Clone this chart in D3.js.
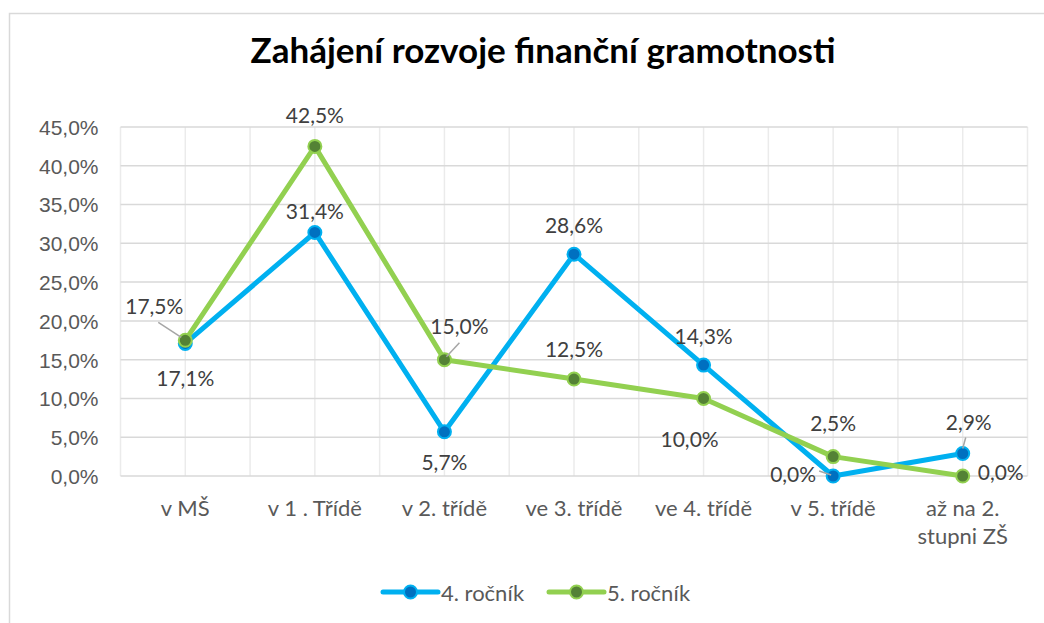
<!DOCTYPE html>
<html>
<head>
<meta charset="utf-8">
<script src="https://cdn.jsdelivr.net/npm/d3@7"></script>
<style>
  body { margin: 0; background: #fff; }
  svg { display: block; font-family: Lato, "Open Sans", sans-serif; }
  .tick text { fill: #595959; font-size: 21px; }
  .title { font-weight: bold; font-size: 35px; fill: #000; }
  .lbl { fill: #404040; font-size: 21px; }
  .cat { fill: #595959; font-size: 22px; }
  .leg { fill: #595959; font-size: 22px; }
</style>
</head>
<body>
<div id="vis"></div>
<script>
const frame_width = 1044;
const frame_height = 623;
const plot = {left: 120.5, right: 1027.5, top: 127, bottom: 476};

const categories = ["v MŠ", "v 1 . Třídě", "v 2. třídě", "ve 3. třídě", "ve 4. třídě", "v 5. třídě", "až na 2. stupni ZŠ"];
const series_names = ["4. ročník", "5. ročník"];
const values_4 = [17.1, 31.4, 5.7, 28.6, 14.3, 0.0, 2.9];
const values_5 = [17.5, 42.5, 15.0, 12.5, 10.0, 2.5, 0.0];
const y_ticks = [0, 5, 10, 15, 20, 25, 30, 35, 40, 45];

// label offsets from the point (layout only)
const offsets_4 = [[0, 34], [0, -22], [0, 30], [0, -30], [0, -30], [-40, -3], [6, -32]];
const offsets_5 = [[-31, -35], [0, -32], [15, -34], [0, -31], [-14, 40], [0, -34], [38, -5]];
// leader lines: [index, x1, y1, x2, y2] relative to point
const leaders_4 = [[5, -14, -5, -2, -1], [6, 3, -16, 0, -5]];
const leaders_5 = [[0, -27, -18, -4, -3], [2, 15, -17, 2, -3]];

const line_colors = ["#00b0f0", "#92d050"];
const marker_fill = ["#0070c0", "#548235"];

const locale = d3.formatLocale({decimal: ",", thousands: " ", grouping: [3], currency: ["", ""]});
const pct = locale.format(".1f");

const FRAME = d3.select("#vis")
  .append("svg")
    .attr("width", frame_width)
    .attr("height", frame_height);

// chart border
FRAME.append("rect")
  .attr("x", 9.5).attr("y", 13.5)
  .attr("width", 1200).attr("height", 800)
  .attr("fill", "none").attr("stroke", "#d9d9d9").attr("stroke-width", 1.5);

const X_SCALE = d3.scalePoint()
  .domain(categories)
  .range([plot.left, plot.right])
  .padding(0.5);

const Y_SCALE = d3.scaleLinear()
  .domain([0, 45])
  .range([plot.bottom, plot.top]);

// vertical gridlines at category centres and boundaries
const half = X_SCALE.step() / 2;
const vgrid = d3.range(0, categories.length * 2 + 1).map(i => plot.left + i * half);
FRAME.append("g").selectAll("line")
  .data(vgrid)
  .enter().append("line")
    .attr("x1", d => d).attr("x2", d => d)
    .attr("y1", plot.top).attr("y2", plot.bottom)
    .attr("stroke", "#ebebeb").attr("stroke-width", 1.5);

// horizontal gridlines
FRAME.append("g").selectAll("line")
  .data(y_ticks)
  .enter().append("line")
    .attr("x1", plot.left).attr("x2", plot.right)
    .attr("y1", d => Y_SCALE(d)).attr("y2", d => Y_SCALE(d))
    .attr("stroke", "#d9d9d9").attr("stroke-width", 1.5);

// y axis labels
FRAME.append("g")
  .attr("transform", "translate(" + plot.left + ",0)")
  .call(d3.axisLeft(Y_SCALE).tickValues(y_ticks).tickSize(0).tickPadding(22)
    .tickFormat(d => pct(d) + "%"))
  .call(g => g.select(".domain").remove())
  .selectAll("text").attr("dy", "0.35em");

// category labels
const catText = FRAME.append("g").selectAll("text")
  .data(categories)
  .enter().append("text")
    .attr("class", "cat")
    .attr("text-anchor", "middle")
    .attr("x", d => X_SCALE(d))
    .attr("y", 516);
catText.each(function (d) {
  const parts = d === "až na 2. stupni ZŠ" ? ["až na 2.", "stupni ZŠ"] : [d];
  const t = d3.select(this);
  parts.forEach((p, i) => {
    t.append("tspan").attr("x", X_SCALE(d)).attr("dy", i === 0 ? 0 : 28).text(p);
  });
});

// title
FRAME.append("text")
  .attr("class", "title")
  .attr("x", 543).attr("y", 63)
  .attr("text-anchor", "middle")
  .text("Zahájení rozvoje finanční gramotnosti");

const allSeries = [values_4, values_5];
const allOffsets = [offsets_4, offsets_5];
const allLeaders = [leaders_4, leaders_5];

const line = d3.line()
  .x((d, i) => X_SCALE(categories[i]))
  .y(d => Y_SCALE(d));

allSeries.forEach((vals, s) => {
  FRAME.append("path")
    .datum(vals)
    .attr("d", line)
    .attr("fill", "none")
    .attr("stroke", line_colors[s])
    .attr("stroke-width", 5)
    .attr("stroke-linejoin", "round");

  FRAME.append("g").selectAll("circle")
    .data(vals)
    .enter().append("circle")
      .attr("cx", (d, i) => X_SCALE(categories[i]))
      .attr("cy", d => Y_SCALE(d))
      .attr("r", 6.5)
      .attr("fill", marker_fill[s])
      .attr("stroke", line_colors[s])
      .attr("stroke-width", 2);
});

// leader lines and data labels
allSeries.forEach((vals, s) => {
  FRAME.append("g").selectAll("line")
    .data(allLeaders[s])
    .enter().append("line")
      .attr("x1", d => X_SCALE(categories[d[0]]) + d[1])
      .attr("y1", d => Y_SCALE(vals[d[0]]) + d[2])
      .attr("x2", d => X_SCALE(categories[d[0]]) + d[3])
      .attr("y2", d => Y_SCALE(vals[d[0]]) + d[4])
      .attr("stroke", "#a6a6a6").attr("stroke-width", 1.5);

  FRAME.append("g").selectAll("text")
    .data(vals)
    .enter().append("text")
      .attr("class", "lbl")
      .attr("text-anchor", "middle")
      .attr("dominant-baseline", "central")
      .attr("x", (d, i) => X_SCALE(categories[i]) + allOffsets[s][i][0])
      .attr("y", (d, i) => Y_SCALE(d) + allOffsets[s][i][1])
      .text(d => pct(d) + "%");
});

// legend
const legend_x = [383, 549];
series_names.forEach((name, s) => {
  const g = FRAME.append("g").attr("transform", "translate(" + legend_x[s] + ",592)");
  g.append("line")
    .attr("x1", 0).attr("x2", 55).attr("y1", 0).attr("y2", 0)
    .attr("stroke", line_colors[s]).attr("stroke-width", 5).attr("stroke-linecap", "round");
  g.append("circle")
    .attr("cx", 27.5).attr("cy", 0).attr("r", 6.5)
    .attr("fill", marker_fill[s]).attr("stroke", line_colors[s]).attr("stroke-width", 2);
  g.append("text")
    .attr("class", "leg")
    .attr("x", 58).attr("y", 0)
    .attr("dominant-baseline", "central")
    .text(name);
});
</script>
</body>
</html>
